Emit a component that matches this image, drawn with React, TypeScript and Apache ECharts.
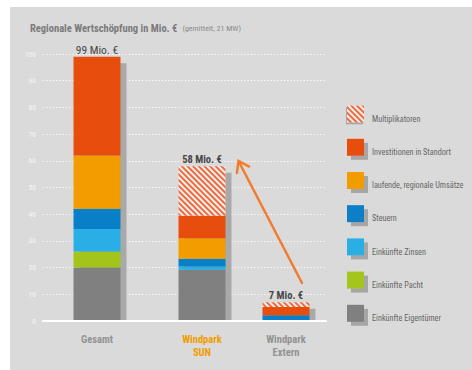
import React, { useEffect, useRef } from "react";
import * as echarts from "echarts";

// ---------- data ----------
const categories = ["Gesamt", "Windpark\nSUN", "Windpark\nExtern"];
const eigentuemer = [20, 19.2, 0];
const pacht = [6, 0, 0];
const zinsen = [8.5, 1.2, 0];
const steuern = [7.5, 2.9, 2.2];
const umsaetze = [20, 7.7, 0];
const investitionen = [37, 8.4, 3.0];
const multiplikatoren = [0, 18.6, 1.8];

const seriesNames = [
  "Einkünfte Eigentümer",
  "Einkünfte Pacht",
  "Einkünfte Zinsen",
  "Steuern",
  "laufende, regionale Umsätze",
  "Investitionen in Standort",
  "Multiplikatoren",
];
const seriesValues = [eigentuemer, pacht, zinsen, steuern, umsaetze, investitionen, multiplikatoren];

const yMin = 0;
const yMax = 100;
const yStep = 10;
const titleText = "Regionale Wertschöpfung in Mio. €";
const subtitleText = "(gemittelt, 21 MW)";
const unit = "Mio. €";

// ---------- styles / layout ----------
const seriesColors = ["#808080", "#a3c51b", "#29afe5", "#087fc7", "#f29c00", "#e74e0d", "#f0f0f0"];
const HATCH = "#f06a3c";
const ARROW = "#f07d2e";
const SHADOW = "#a9a9a9";
const LEGEND_SHADOW = "#a6a6a6";
const LABEL_GRAY = "#939393";
const HIGHLIGHT_CAT = 1;
const FONT = "'Liberation Sans Narrow', 'Roboto Condensed', Roboto, sans-serif";
const SLOT_COUNT = 10;
const SLOT_OF = [0, 5, 9];
const BAR_W = 47;
const SH_DX = 6;
const SH_DY = 6.5;
const PLOT_TOP = 54;
const PLOT_H = 267;
const LEG_LEFT = 342;
const LEG_ICON_TOP = 103.3;

const totals = categories.map((_, i) => seriesValues.reduce((s, arr) => s + arr[i], 0));

function expand(vals: number[]) {
  const out: (number | string)[] = new Array(SLOT_COUNT).fill("-");
  vals.forEach((v, i) => {
    out[SLOT_OF[i]] = v;
  });
  return out;
}

function arrowGraphic() {
  const tail = [302, 283];
  const tip = [238.5, 161];
  const ang = Math.atan2(tail[1] - tip[1], tail[0] - tip[0]);
  const arm = 12;
  const spread = (35 * Math.PI) / 180;
  const p1 = [tip[0] + arm * Math.cos(ang + spread), tip[1] + arm * Math.sin(ang + spread)];
  const p2 = [tip[0] + arm * Math.cos(ang - spread), tip[1] + arm * Math.sin(ang - spread)];
  return [
    {
      type: "line",
      shape: { x1: tail[0], y1: tail[1], x2: tip[0] + 0.5, y2: tip[1] + 1 },
      style: { stroke: ARROW, lineWidth: 2.5, lineCap: "round" },
      z: 50,
    },
    {
      type: "polyline",
      shape: { points: [p1, tip, p2] },
      style: { stroke: ARROW, lineWidth: 2.5, fill: null, lineJoin: "miter", lineCap: "round" },
      z: 50,
    },
    // shadow behind the hatched legend icon
    {
      type: "rect",
      shape: { x: LEG_LEFT + 4, y: LEG_ICON_TOP + 4, width: 17, height: 17 },
      style: { fill: LEGEND_SHADOW },
      z: 0,
    },
  ];
}

export default function App() {
  const ref = useRef<HTMLDivElement>(null);

  useEffect(() => {
    if (!ref.current) return;
    const chart = echarts.init(ref.current, null, { renderer: "svg" });

    const axisData = new Array(SLOT_COUNT).fill("").map((v) => ({ value: v })) as any[];
    categories.forEach((c, i) => {
      axisData[SLOT_OF[i]] = {
        value: c,
        textStyle: { color: i === HIGHLIGHT_CAT ? "#f29c00" : LABEL_GRAY },
      };
    });

    const barSeries = seriesNames.map((name, k) => {
      const isHatch = name === "Multiplikatoren";
      return {
        name,
        type: "bar",
        stack: "total",
        xAxisIndex: 1,
        yAxisIndex: 1,
        barWidth: BAR_W,
        clip: false,
        data: expand(seriesValues[k]),
        itemStyle: {
          color: seriesColors[k],
          decal: isHatch
            ? {
                symbol: "rect",
                symbolSize: 1,
                dashArrayX: [1, 0],
                dashArrayY: [1.5, 1.4],
                rotation: Math.PI / 4,
                color: HATCH,
              }
            : "none",
        },
        emphasis: { disabled: true },
        z: 3,
      };
    });

    const shadowSeries = {
      type: "custom",
      name: "shadow",
      xAxisIndex: 1,
      yAxisIndex: 1,
      z: 1,
      clip: false,
      silent: true,
      data: totals.map((t, i) => [SLOT_OF[i], t, i]),
      renderItem: (params: any, api: any) => {
        const x = api.value(0);
        const t = api.value(1);
        const i = api.value(2);
        const top = api.coord([x, t]);
        const base = api.coord([x, 0]);
        return {
          type: "group",
          children: [
            {
              type: "rect",
              shape: {
                x: top[0] - BAR_W / 2 + SH_DX,
                y: top[1] + SH_DY,
                width: BAR_W,
                height: Math.max(0, base[1] - top[1] - SH_DY),
              },
              style: { fill: SHADOW },
            },
            {
              type: "text",
              style: {
                text: `${Math.round(t)} ${unit}`,
                x: top[0],
                y: top[1] - 7,
                align: "center",
                verticalAlign: "middle",
                fill: "#474747",
                fontFamily: FONT,
                fontSize: i === 0 ? 11.5 : 10.5,
                fontWeight: i === 0 ? "normal" : "bold",
              },
            },
          ],
        };
      },
    };

    const legendData = [...seriesNames].reverse().map((name) =>
      name === "Multiplikatoren"
        ? { name, itemStyle: { shadowOffsetX: 0, shadowOffsetY: 0, shadowColor: "transparent" } }
        : { name }
    );

    const option: any = {
      animation: false,
      backgroundColor: "transparent",
      title: {
        left: 30,
        top: 19,
        padding: 0,
        text: `{a|${titleText}} {b|${subtitleText}}`,
        textStyle: {
          rich: {
            a: { fontFamily: FONT, fontSize: 10.5, fontWeight: "bold", color: "#7a7a7a" },
            b: { fontFamily: FONT, fontSize: 8, fontWeight: "normal", color: "#8a8a8a" },
          },
        },
      },
      legend: {
        orient: "vertical",
        left: LEG_LEFT,
        top: LEG_ICON_TOP - 3,
        itemWidth: 17,
        itemHeight: 17,
        itemGap: 15.6,
        icon: "rect",
        selectedMode: false,
        data: legendData,
        formatter: (name: string) => `{t|${name}}`,
        textStyle: {
          fontFamily: FONT,
          fontSize: 8.2,
          color: "#666666",
          rich: {
            t: {
              fontFamily: FONT,
              fontSize: 8.2,
              color: "#666666",
              lineHeight: 10,
              padding: [9.6, 0, 0, 3],
            },
          },
        },
        itemStyle: { shadowColor: LEGEND_SHADOW, shadowOffsetX: 4, shadowOffsetY: 4, shadowBlur: 0 },
      },
      grid: [
        { left: 43, width: 283, top: PLOT_TOP, height: PLOT_H },
        { left: 86.5, width: 210, top: PLOT_TOP, height: PLOT_H },
      ],
      xAxis: [
        {
          gridIndex: 0,
          type: "category",
          data: [""],
          z: 10,
          axisLine: { show: true, lineStyle: { color: "#ffffff", width: 2 } },
          axisTick: { show: false },
          axisLabel: { show: false },
          splitLine: { show: false },
        },
        {
          gridIndex: 1,
          type: "category",
          data: axisData,
          axisLine: { show: false },
          axisTick: { show: false },
          splitLine: { show: false },
          axisLabel: {
            interval: 0,
            margin: 11.5,
            fontFamily: FONT,
            fontSize: 10.5,
            fontWeight: "bold",
            lineHeight: 13.5,
            color: LABEL_GRAY,
          },
        },
      ],
      yAxis: [
        {
          gridIndex: 0,
          type: "value",
          min: yMin,
          max: yMax,
          interval: yStep,
          axisLine: { show: false },
          axisTick: { show: false },
          axisLabel: { color: "#f6f6f6", fontSize: 7.5, fontFamily: FONT, margin: 7 },
          splitLine: { show: true, lineStyle: { color: "#ffffff", width: 1, type: [1.2, 2.1] } },
        },
        {
          gridIndex: 1,
          type: "value",
          min: yMin,
          max: yMax,
          show: false,
          splitLine: { show: false },
        },
      ],
      graphic: arrowGraphic(),
      series: [shadowSeries, ...barSeries],
    };

    chart.setOption(option);
    return () => chart.dispose();
  }, []);

  return (
    <div style={{ position: "fixed", left: 0, top: 0, width: 472, height: 370, background: "#ffffff" }}>
      <div style={{ position: "absolute", left: 10, top: 7, width: 462, height: 363, background: "#dadada" }} />
      <div ref={ref} style={{ position: "absolute", left: 0, top: 0, width: 472, height: 370 }} />
    </div>
  );
}
